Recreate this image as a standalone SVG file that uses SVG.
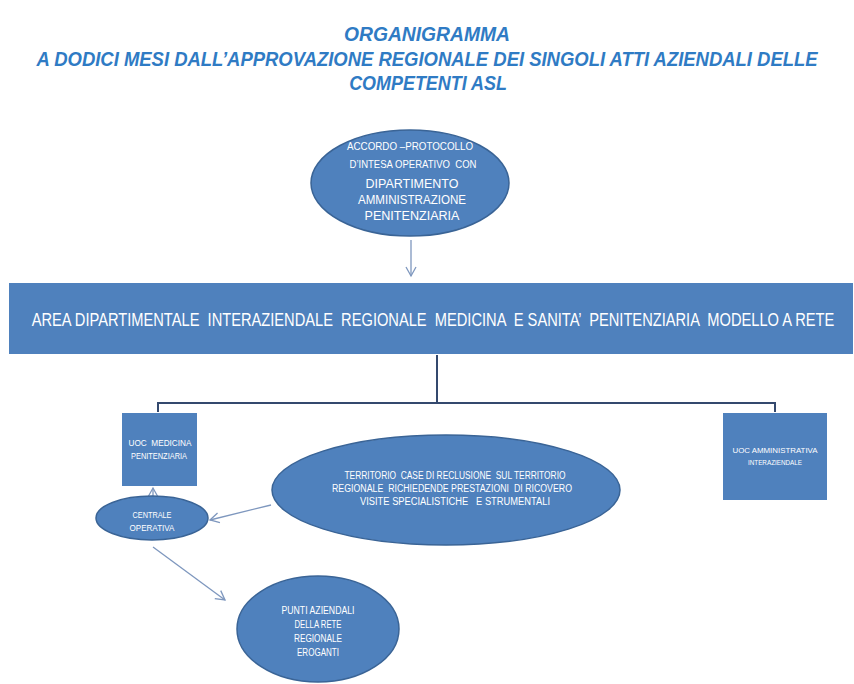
<svg xmlns="http://www.w3.org/2000/svg" width="854" height="684" viewBox="0 0 854 684">
<style>
.title{font-family:"Liberation Sans",Arial,sans-serif;font-weight:bold;font-style:italic;fill:#2F7BC4;font-size:21px;text-anchor:middle}
.shape{fill:#4F81BD;stroke:#3A6496;stroke-width:1.5}
.rect{fill:#4F81BD;stroke:none}
.t{font-family:"Liberation Sans",Arial,sans-serif;fill:#FFFFFF;text-anchor:middle;white-space:pre}
.org{fill:none;stroke:#34496E;stroke-width:2}
.arr{fill:none;stroke:#7E97BE;stroke-width:1.3}
</style>
<defs>
<marker id="ah" markerWidth="12" markerHeight="12" refX="10" refY="6" orient="auto" markerUnits="userSpaceOnUse">
<path d="M1,1 L10,6 L1,11" fill="none" stroke="#7E97BE" stroke-width="1.3"/>
</marker>
</defs>
<rect width="854" height="684" fill="#FFFFFF"/>
<g id="title">
<text class="title" transform="translate(427,41) scale(0.917,1)" x="0" y="0" textLength="181" lengthAdjust="spacingAndGlyphs">ORGANIGRAMMA</text>
<text class="title" transform="translate(427,66) scale(0.866,1)" x="0" y="0" textLength="902" lengthAdjust="spacingAndGlyphs">A DODICI MESI DALL’APPROVAZIONE REGIONALE DEI SINGOLI ATTI AZIENDALI DELLE</text>
<text class="title" transform="translate(428,90) scale(0.83,1)" x="0" y="0" textLength="190" lengthAdjust="spacingAndGlyphs">COMPETENTI ASL</text>
</g>
<g id="connectors">
<line class="arr" x1="411" y1="240" x2="411" y2="276" marker-end="url(#ah)"/>
<polyline class="org" points="437,355 437,403"/>
<polyline class="org" points="158,412 158,403 775,403 775,412"/>
<line class="arr" x1="153" y1="497" x2="153" y2="488" marker-end="url(#ah)"/>
<line class="arr" x1="271" y1="505" x2="210" y2="520" marker-end="url(#ah)"/>
<line class="arr" x1="153" y1="547" x2="225" y2="600" marker-end="url(#ah)"/>
</g>
<g id="accordo">
<ellipse class="shape" cx="410" cy="183" rx="99" ry="53"/>
<text class="t" xml:space="preserve" font-size="10.5" x="410" y="150" textLength="126" lengthAdjust="spacingAndGlyphs">ACCORDO –PROTOCOLLO</text>
<text class="t" xml:space="preserve" font-size="10.5" x="413" y="168" textLength="127" lengthAdjust="spacingAndGlyphs">D’INTESA OPERATIVO  CON</text>
<text class="t" font-size="12.5" x="412" y="188" textLength="93" lengthAdjust="spacingAndGlyphs">DIPARTIMENTO</text>
<text class="t" font-size="12.5" x="412" y="204" textLength="108" lengthAdjust="spacingAndGlyphs">AMMINISTRAZIONE</text>
<text class="t" font-size="12.5" x="412" y="220" textLength="95" lengthAdjust="spacingAndGlyphs">PENITENZIARIA</text>
</g>
<g id="area">
<rect class="rect" x="9" y="283" width="844" height="71"/>
<text class="t" xml:space="preserve" font-size="19" transform="translate(433,326) scale(0.763,1)" x="0" y="0" textLength="1052" lengthAdjust="spacingAndGlyphs">AREA DIPARTIMENTALE  INTERAZIENDALE  REGIONALE  MEDICINA  E SANITA’  PENITENZIARIA  MODELLO A RETE</text>
</g>
<g id="uoc-medicina">
<rect class="rect" x="122" y="413" width="75" height="73"/>
<text class="t" xml:space="preserve" font-size="8.5" x="160" y="446" textLength="63" lengthAdjust="spacingAndGlyphs">UOC  MEDICINA</text>
<text class="t" font-size="8.5" x="159" y="459" textLength="56" lengthAdjust="spacingAndGlyphs">PENITENZIARIA</text>
</g>
<g id="uoc-amministrativa">
<rect class="rect" x="723" y="413" width="104" height="87"/>
<text class="t" font-size="8" x="775" y="453" textLength="85" lengthAdjust="spacingAndGlyphs">UOC AMMINISTRATIVA</text>
<text class="t" font-size="8" x="775" y="465" textLength="54" lengthAdjust="spacingAndGlyphs">INTERAZIENDALE</text>
</g>
<g id="territorio">
<ellipse class="shape" cx="446" cy="490" rx="174" ry="55"/>
<text class="t" xml:space="preserve" font-size="10" x="455" y="479" textLength="221" lengthAdjust="spacingAndGlyphs">TERRITORIO  CASE DI RECLUSIONE  SUL TERRITORIO</text>
<text class="t" xml:space="preserve" font-size="10" x="452" y="492" textLength="240" lengthAdjust="spacingAndGlyphs">REGIONALE  RICHIEDENDE PRESTAZIONI  DI RICOVERO</text>
<text class="t" xml:space="preserve" font-size="10" x="455" y="505" textLength="190" lengthAdjust="spacingAndGlyphs">VISITE SPECIALISTICHE   E STRUMENTALI</text>
</g>
<g id="centrale">
<ellipse class="shape" cx="152" cy="518" rx="56" ry="22"/>
<text class="t" font-size="9.5" x="152" y="518" textLength="39" lengthAdjust="spacingAndGlyphs">CENTRALE</text>
<text class="t" font-size="9.5" x="152" y="531" textLength="45" lengthAdjust="spacingAndGlyphs">OPERATIVA</text>
</g>
<g id="punti">
<ellipse class="shape" cx="318" cy="629" rx="81" ry="53"/>
<text class="t" font-size="10.5" x="318" y="614" textLength="73" lengthAdjust="spacingAndGlyphs">PUNTI AZIENDALI</text>
<text class="t" font-size="10.5" x="318" y="628" textLength="47" lengthAdjust="spacingAndGlyphs">DELLA RETE</text>
<text class="t" font-size="10.5" x="318" y="642" textLength="48" lengthAdjust="spacingAndGlyphs">REGIONALE</text>
<text class="t" font-size="10.5" x="318" y="656" textLength="42" lengthAdjust="spacingAndGlyphs">EROGANTI</text>
</g>
</svg>
